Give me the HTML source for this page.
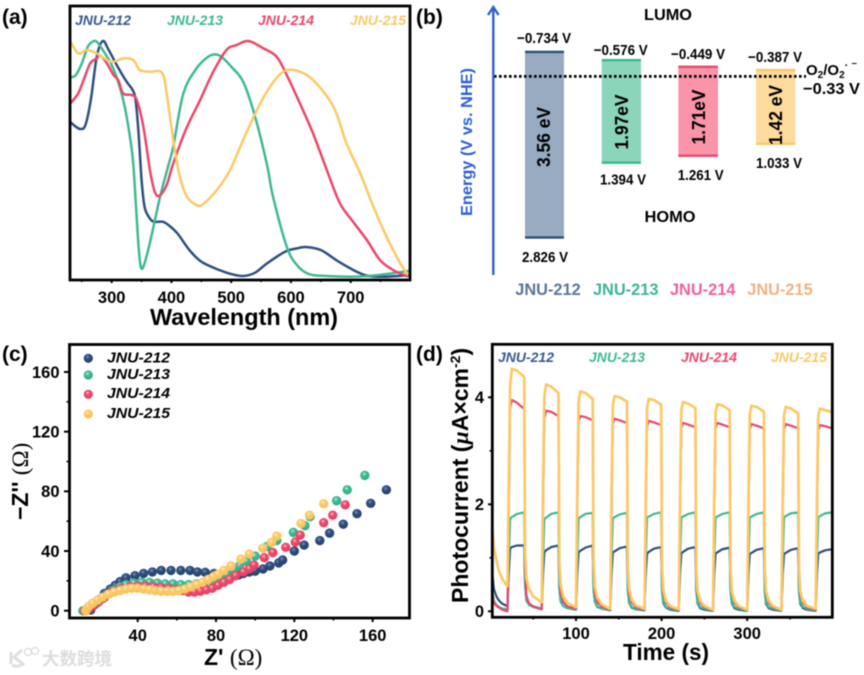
<!DOCTYPE html>
<html lang="en"><head><meta charset="utf-8"><title>JNU series figure</title>
<style>
html,body{margin:0;padding:0;background:#fff}
svg{display:block;filter:blur(0.45px)}
text{font-family:"Liberation Sans","Noto Sans CJK SC",sans-serif;font-weight:bold;fill:#000}
</style></head>
<body>
<svg id="fig" width="864" height="675" viewBox="0 0 864 675" xmlns="http://www.w3.org/2000/svg">
<defs>
<radialGradient id="ball212" cx="42%" cy="35%" r="65%"><stop offset="0" stop-color="#7f99bf"/><stop offset=".35" stop-color="#31507f"/><stop offset="1" stop-color="#24406b"/></radialGradient>
<radialGradient id="ball213" cx="42%" cy="35%" r="65%"><stop offset="0" stop-color="#c4eedd"/><stop offset=".35" stop-color="#3fbc95"/><stop offset="1" stop-color="#32aa85"/></radialGradient>
<radialGradient id="ball214" cx="42%" cy="35%" r="65%"><stop offset="0" stop-color="#fbc4d0"/><stop offset=".35" stop-color="#ee4a6c"/><stop offset="1" stop-color="#e43e62"/></radialGradient>
<radialGradient id="ball215" cx="42%" cy="35%" r="65%"><stop offset="0" stop-color="#fff0cf"/><stop offset=".35" stop-color="#fcca68"/><stop offset="1" stop-color="#f8c25a"/></radialGradient>
<clipPath id="clipD"><rect x="492" y="344" width="340" height="273"/></clipPath>
<clipPath id="clipA"><rect x="70" y="6" width="340" height="274"/></clipPath>
</defs>
<g id="root"></g>
<g opacity=".9">
<text x="42" y="665" font-size="17.5" textLength="70" lengthAdjust="spacingAndGlyphs" style="fill:#d9d9d9">大数跨境</text>
<path d="M11 652 V664 M22 650 L14 657 L23 664 Q17 668 12 665" fill="none" stroke="#dcdcdc" stroke-width="3"/>
<circle cx="28" cy="652" r="3.5" fill="none" stroke="#dcdcdc" stroke-width="1.5"/>
<circle cx="35" cy="651" r="3.5" fill="none" stroke="#dcdcdc" stroke-width="1.5"/>
</g>
</svg>
<script>
// ---- colours
var seriesNames = ['JNU-212','JNU-213','JNU-214','JNU-215'];
var seriesColors = ['#2f4f7f','#3fb992','#e9476a','#fbc966'];

// ---- panel (a) absorbance (arbitrary units)
var wl212 = [230,240,248,256,265,275,285,295,310,325,335,340,345,350,355,362,370,385,395,410,430,450,480,500,520,540,560,590,610,625,650,680,710,730,760,800];
var abs212 = [465,450,443,455,530,660,707,680,630,585,560,530,430,290,210,180,165,165,155,130,80,45,20,8,2,12,40,75,85,89,80,45,15,2,0,5];
var wl213 = [230,240,250,260,268,275,285,300,315,325,335,340,345,349,355,365,381,395,403,420,442,460,473,485,500,520,540,560,570,593,610,630,660,700,730,760,800];
var abs213 = [598,605,640,690,705,705,680,635,560,480,360,230,90,27,40,110,240,335,390,550,625,658,667,658,630,585,480,335,240,90,35,8,2,0,2,8,18];
var wl214 = [231,244,253,264,275,280,292,303,311,319,333,342,353,364,372,380,392,403,425,448,470,492,509,529,554,576,593,615,637,660,682,704,727,749,771,796];
var abs214 = [520,550,590,640,655,665,640,605,590,550,545,530,450,320,255,243,275,340,445,530,615,680,695,707,685,660,605,520,430,320,220,165,110,50,20,0];
var wl215 = [231,244,258,275,292,303,320,336,347,364,384,392,403,414,426,442,453,476,498,520,543,565,587,610,637,671,693,716,738,760,783,796];
var abs215 = [705,670,680,670,650,645,655,650,620,615,612,550,410,300,240,215,218,260,320,410,500,570,615,618,590,510,400,310,210,120,40,5];
var wlTicks = [300,400,500,600,700];
var wlMinor = [250,350,450,550,650,750];

// ---- panel (b) energy levels (V vs NHE)
var lumo = [-0.734,-0.576,-0.449,-0.387];
var homo = [2.826,1.394,1.261,1.033];
var gapLabels = ['3.56 eV','1.97eV','1.71eV','1.42 eV'];
var lumoLabels = ['\u22120.734 V','\u22120.576 V','\u22120.449 V','\u22120.387 V'];
var homoLabels = ['2.826 V','1.394 V','1.261 V','1.033 V'];
var dottedLevel = -0.262;

// ---- panel (c) Nyquist
var zr212 = [16,18,21,23,26,28.5,31,34,38.6,43,47.5,52,57,62,66.7,70.5,74.5,79,82,85.5,89,91.5,94,97,100,104,107.5,112,114,120,125,133,138,145,152,159,167];
var zi212 = [0.5,4,8,11.6,14.5,17,19.5,22,23.5,25,26,27,27,27,27,26,25.7,25,24,24,24,24,25,26,26.5,28,30,32,34,40,44,47,52,58,65,72,81];
var zr213 = [12,14,16,19,22,25,28,31,34,38,42,46,50,54,58,62,66,70,74,78,82,85.5,89,92,95.6,100,106,111,119.5,125.4,128,141.6,147,156];
var zi213 = [0,1,2.5,5,8,11.5,14,16,17.5,18.5,19,19,18.5,18,18,17.5,17.5,18,19,20,21.5,24,27,30,33,36.6,43,47,52.5,57,63,73.7,81,90.7];
var zr214 = [13,15,17,20,23,26,29,32,36,40,44,48,52,56,60,63,66,69,72,75,78,81,84,87,90,94,97,99.4,104.7,109,115.6,120.5,123,135,139.6,146];
var zi214 = [0,1,3,6,9,12,13.5,15,16,16.5,16.5,16,15.5,15,14,13.5,12.5,12.5,13,14,15,17,19,21,23.5,26,28,30.6,35.5,39,42.5,46,50.7,59,64,71];
var zr215 = [13.5,14,15,17,19.5,22,25,28,31,34,37,40,43,46,49,52,55,58,61,64,67,70,73,76,78.6,81,84,87.7,92.8,97,103.8,108.4,111,123.4,127.7,135];
var zi215 = [0,1.5,3,5,7,9,11,12.5,13.5,14.5,15,15,14.5,14,13.5,13,13,13,13.5,14.5,16,17.5,19,21,22.8,24.4,27,30,34.6,38,41.8,45.8,50,58.5,64,71.7];
var zxTicks = [40,80,120,160];
var zyTicks = [0,40,80,120,160];
var zxMinor = [60,100,140];
var zyMinor = [20,60,100,140];

// ---- panel (d) photocurrent
var lightOnTimes = [20,60,100,140,180,220,260,300,340,380];
var cycleOffsets = [0,1.5,3,5,11,19.5,20.5,22,25,30,39.5];
var preTimes = [2,4,7,10,14,19.5];
var pre212 = [0.75,0.42,0.28,0.2,0.14,0.1];
var pre213 = [0.4,0.2,0.12,0.08,0.05,0.04];
var pre214 = [0.3,0.16,0.1,0.07,0.03,0.0];
var pre215 = [1.55,1.2,0.95,0.75,0.6,0.47];
var cycles212 = [
[0.1,0.7,1.17,1.2,1.23,1.23,0.5,0.22,0.14,0.09,0.05],
[0.05,0.7,1.1,1.14,1.2,1.23,0.45,0.2,0.1,0.06,0.03],
[0.03,0.7,1.1,1.13,1.19,1.23,0.42,0.18,0.08,0.05,0.02],
[0.02,0.7,1.1,1.12,1.18,1.21,0.42,0.16,0.07,0.04,0.02],
[0.02,0.7,1.08,1.11,1.17,1.2,0.4,0.15,0.07,0.03,0.01],
[0.01,0.7,1.08,1.11,1.17,1.2,0.4,0.15,0.06,0.03,0.01],
[0.01,0.7,1.08,1.1,1.16,1.19,0.4,0.15,0.06,0.03,0.01],
[0.01,0.7,1.07,1.09,1.15,1.18,0.38,0.14,0.06,0.03,0.01],
[0.01,0.7,1.07,1.09,1.15,1.18,0.38,0.14,0.06,0.03,0.01],
[0.01,0.7,1.08,1.1,1.14,1.16]];
var cycles213 = [
[0.04,1.0,1.72,1.76,1.82,1.85,0.5,0.2,0.12,0.08,0.04],
[0.04,1.0,1.72,1.75,1.82,1.85,0.45,0.18,0.1,0.06,0.03],
[0.03,1.0,1.74,1.76,1.82,1.84,0.42,0.18,0.09,0.05,0.03],
[0.03,1.0,1.74,1.76,1.81,1.84,0.42,0.17,0.08,0.05,0.03],
[0.03,1.0,1.75,1.77,1.82,1.85,0.42,0.17,0.08,0.05,0.02],
[0.02,1.0,1.75,1.77,1.82,1.85,0.4,0.17,0.08,0.05,0.02],
[0.02,1.0,1.75,1.77,1.82,1.85,0.4,0.17,0.08,0.05,0.02],
[0.02,1.0,1.75,1.77,1.82,1.85,0.4,0.17,0.08,0.05,0.02],
[0.02,1.0,1.75,1.78,1.83,1.85,0.4,0.17,0.08,0.05,0.02],
[0.02,1.0,1.76,1.78,1.83,1.85]];
var cycles214 = [
[0.0,1.9,3.8,3.95,3.9,3.78,0.8,0.3,0.15,0.09,0.04],
[0.04,1.9,3.6,3.75,3.73,3.65,0.8,0.35,0.18,0.09,0.05],
[0.05,1.9,3.55,3.65,3.63,3.57,0.8,0.35,0.17,0.09,0.04],
[0.04,1.8,3.5,3.6,3.57,3.52,0.75,0.33,0.17,0.08,0.04],
[0.04,1.8,3.45,3.56,3.53,3.48,0.75,0.33,0.16,0.08,0.03],
[0.03,1.8,3.42,3.52,3.49,3.44,0.72,0.33,0.16,0.08,0.03],
[0.03,1.8,3.42,3.52,3.49,3.44,0.72,0.33,0.16,0.08,0.03],
[0.03,1.8,3.4,3.5,3.47,3.42,0.72,0.33,0.16,0.08,0.03],
[0.03,1.8,3.4,3.5,3.47,3.42,0.72,0.33,0.16,0.08,0.03],
[0.03,1.8,3.38,3.48,3.46,3.42]];
var cycles215 = [
[0.47,2.4,4.2,4.53,4.5,4.38,1.1,0.62,0.42,0.28,0.17],
[0.17,2.3,4.0,4.24,4.2,4.08,0.95,0.5,0.28,0.16,0.08],
[0.08,2.2,3.9,4.11,4.08,3.97,0.9,0.45,0.25,0.13,0.05],
[0.05,2.2,3.85,4.02,4.0,3.92,0.85,0.42,0.22,0.11,0.05],
[0.05,2.1,3.8,3.97,3.95,3.86,0.82,0.4,0.2,0.1,0.04],
[0.04,2.1,3.75,3.91,3.88,3.8,0.8,0.38,0.2,0.1,0.03],
[0.03,2.1,3.7,3.87,3.85,3.76,0.8,0.38,0.2,0.1,0.03],
[0.03,2.1,3.68,3.84,3.82,3.73,0.8,0.38,0.2,0.1,0.03],
[0.03,2.1,3.66,3.82,3.79,3.7,0.8,0.38,0.2,0.1,0.05],
[0.05,2.1,3.65,3.79,3.76,3.72]];
var timeTicks = [100,200,300];
var timeMinor = [50,150,250,350];
var pcTicks = [0,2,4];
var pcMinor = [1,3];

// ---- axis functions
function xA(w){return 111.7+(w-300)*0.5975;}
function yA(v){return 276.7-v/3;}
function yE(v){return 51.7+(v+0.734)*52.25;}
function xC(v){return 137.7+(v-40)*1.958;}
function yC(v){return 610.7-v*1.492;}
function xD(t){return 576+(t-100)*0.856;}
function yD(v){return 611.3-v*53.5;}

var NS='http://www.w3.org/2000/svg';
var root=document.getElementById('root');
function mk(tag,attrs,parent){
  var e=document.createElementNS(NS,tag);
  for(var k in attrs){e.setAttribute(k,attrs[k]);}
  (parent||root).appendChild(e);
  return e;
}
function label(str,x,y,size,opts,name){
  opts=opts||{};
  var a={x:x,y:y,'font-size':size};
  if(opts.anchor)a['text-anchor']=opts.anchor;
  if(opts.width){a.textLength=opts.width;a.lengthAdjust='spacingAndGlyphs';}
  if(opts.rotate){a.transform='rotate(-90 '+x+' '+y+')';}
  if(opts.italic)a['font-style']='italic';
  var t=mk('text',a,opts.parent);
  if(opts.color)t.style.fill=opts.color;
  t.textContent=str;
  
  
  return t;
}
function tick(x1,y1,x2,y2,w,name,parent){
  var l=mk('line',{x1:x1,y1:y1,x2:x2,y2:y2,stroke:'#000','stroke-width':w},parent);
  
  
}
function frame(x,y,w,h,name){
  var r=mk('rect',{x:x,y:y,width:w,height:h,fill:'none',stroke:'#000','stroke-width':2.8});
  
  
}
function smooth(pts){
  var d='M'+pts[0][0].toFixed(2)+' '+pts[0][1].toFixed(2);
  for(var i=0;i<pts.length-1;i++){
    var p0=pts[Math.max(i-1,0)],p1=pts[i],p2=pts[i+1],p3=pts[Math.min(i+2,pts.length-1)];
    var c1x=p1[0]+(p2[0]-p0[0])/6,c1y=p1[1]+(p2[1]-p0[1])/6,c2x=p2[0]-(p3[0]-p1[0])/6,c2y=p2[1]-(p3[1]-p1[1])/6;
    d+='C'+c1x.toFixed(2)+' '+c1y.toFixed(2)+' '+c2x.toFixed(2)+' '+c2y.toFixed(2)+' '+p2[0].toFixed(2)+' '+p2[1].toFixed(2);
  }
  return d;
}

// ---- panel labels
label('(a)',2,24,21,{},'panel-a-label');
label('(b)',416,24,21,{},'panel-b-label');
label('(c)',2,361,21,{},'panel-c-label');
label('(d)',416,361,21,{},'panel-d-label');

// ---- panel (a)
var aG=mk('g',{'clip-path':'url(#clipA)'});


var wls=[wl212,wl213,wl214,wl215],absS=[abs212,abs213,abs214,abs215];
[0,1,2,3].forEach(function(s){
  var pts=wls[s].map(function(w,i){return [xA(w),yA(absS[s][i])];});
  var p=mk('path',{d:smooth(pts),fill:'none',stroke:seriesColors[s],'stroke-width':2.5,'stroke-linejoin':'round'},aG);
  
  
});
frame(70,6,340,274,'panel-a-frame');
wlTicks.forEach(function(t){
  tick(xA(t),280,xA(t),283,2,'x-tick-'+t);
  label(String(t),xA(t),303,16.5,{anchor:'middle'},'x-tick-label-'+t);
});
wlMinor.forEach(function(t){tick(xA(t),280,xA(t),282,1.5,'x-minor-tick-'+t);});
label('Wavelength (nm)',150,325,23,{width:188},'x-axis-title-wavelength');
var legAX=[75,167,258,350];
seriesNames.forEach(function(n,i){
  label(n,legAX[i],25,13.5,{italic:true,width:56,color:seriesColors[i]=='#2f4f7f'?'#3a5a8c':seriesColors[i]},'legend-a-'+n.toLowerCase());
});

// ---- panel (b)
var barX=[525,601.7,678.3,756];
var barW=[39,39.3,39.7,39.3];
var barFill=['#98abc0','#8bd5bb','#fa94a9','#fddb9c'];
var barEdge=['#2f4f75','#3bb78f','#ea4a6c','#f9c766'];
var gapX=[550,628,705,782];
var gapY=[137,122,117,115];
var gapW=[60,55,55,60];
var lumoX=[544,620.7,698,775];
var lumoY=[43,55,59,62];
var homoX=[545,623,700.7,779];
var homoY=[262,184.7,180,168];
var sampleX=[548,625.7,702.7,780];
var sampleColor=['#5d7697','#3fb596','#ef62a0','#f0b285'];
seriesNames.forEach(function(n,i){
  var id=n.toLowerCase();
  var y1=yE(lumo[i]),y2=yE(homo[i]);
  var r=mk('rect',{x:barX[i],y:y1,width:barW[i],height:y2-y1,fill:barFill[i]});
  
  
  var e1=mk('rect',{x:barX[i],y:y1-1,width:barW[i],height:2.4,fill:barEdge[i]});
  
  
  var e2=mk('rect',{x:barX[i],y:y2-1.4,width:barW[i],height:2.4,fill:barEdge[i]});
  
  
  label(gapLabels[i],gapX[i],gapY[i]+gapW[i]/2,18,{rotate:true,width:gapW[i]},'band-gap-label-'+id);
  label(lumoLabels[i],lumoX[i],lumoY[i],15,{anchor:'middle',width:54},'lumo-value-'+id);
  label(homoLabels[i],homoX[i],homoY[i],15,{anchor:'middle',width:46},'homo-value-'+id);
  label(n,sampleX[i],295,17,{anchor:'middle',width:65.5,color:sampleColor[i]},'sample-label-'+id);
});
var dl=mk('line',{x1:494,x2:806,y1:yE(dottedLevel),y2:yE(dottedLevel),stroke:'#000','stroke-width':2.8,'stroke-dasharray':'2.6 2.4'});


var ax=mk('path',{d:'M493.3 275 V7 M488 15 L493.3 7 L498.6 15',fill:'none',stroke:'#2f5fd0','stroke-width':2.4});


label('Energy (V vs. NHE)',472,216,16,{rotate:true,width:148,color:'#2f5fd0'},'y-axis-title-energy');
label('LUMO',668,20,16,{anchor:'middle',width:48},'lumo-title');
label('HOMO',670,222,16,{anchor:'middle',width:51},'homo-title');
var o2=label('O',806,75,15,{},'o2-couple-label');
o2.innerHTML='O<tspan font-size="10" dy="3">2</tspan><tspan dy="-3">/O</tspan><tspan font-size="10" dy="3">2</tspan><tspan font-size="11" dy="-9">· ⁻</tspan>';
label('\u22120.33 V',803,94,16,{width:57},'o2-potential-label');

// ---- panel (c)
var zrs=[zr212,zr213,zr214,zr215],zis=[zi212,zi213,zi214,zi215],ballIds=['ball212','ball213','ball214','ball215'];
var cG=mk('g',{});


[0,1,2,3].forEach(function(s){
  zrs[s].forEach(function(v,i){
    var c=mk('circle',{cx:xC(v),cy:yC(zis[s][i]),r:4.7,fill:'url(#'+ballIds[s]+')'},cG);
    
    
  });
});
frame(69.5,344.5,340,273.5,'panel-c-frame');
zxTicks.forEach(function(t){
  tick(xC(t),618,xC(t),622,2,'z-real-tick-'+t);
  label(String(t),xC(t),641,16.5,{anchor:'middle'},'z-real-tick-label-'+t);
});
zxMinor.forEach(function(t){tick(xC(t),618,xC(t),620.5,1.5,'z-real-minor-tick-'+t);});
zyTicks.forEach(function(t){
  tick(64,yC(t),69,yC(t),2,'z-imag-tick-'+t);
  label(String(t),59.5,yC(t)+5.8,16.5,{anchor:'end'},'z-imag-tick-label-'+t);
});
zyMinor.forEach(function(t){tick(66.5,yC(t),69,yC(t),1.5,'z-imag-minor-tick-'+t);});
var zx=label('Z\'',204,665,23,{},'x-axis-title-z-real');
zx.innerHTML='Z\' <tspan font-family="Liberation Serif" font-weight="normal">(Ω)</tspan>';
var zy=label('',28,520,23,{rotate:true},'y-axis-title-z-imag');
zy.innerHTML='−Z\'\' <tspan font-family="Liberation Serif" font-weight="normal">(Ω)</tspan>';
var legCY=[358.3,375,394.3,414];
var legCB=[362.7,379,398,418];
seriesNames.forEach(function(n,i){
  var c=mk('circle',{cx:88.3,cy:legCY[i],r:4.6,fill:'url(#'+ballIds[i]+')'});
  
  
  label(n,107,legCB[i],14.5,{italic:true,width:63},'legend-c-'+n.toLowerCase());
});

// ---- panel (d)
var dG=mk('g',{'clip-path':'url(#clipD)'});


var preS=[pre212,pre213,pre214,pre215],cycS=[cycles212,cycles213,cycles214,cycles215];
var dWidths=[2.2,2.2,2.2,2.7];
[0,1,2,3].forEach(function(s){
  var pts=preTimes.map(function(t,i){return xD(t).toFixed(2)+','+yD(preS[s][i]).toFixed(2);});
  cycS[s].forEach(function(row,k){
    row.forEach(function(v,j){
      pts.push(xD(lightOnTimes[k]+cycleOffsets[j]).toFixed(2)+','+yD(v).toFixed(2));
    });
  });
  var p=mk('polyline',{points:pts.join(' '),fill:'none',stroke:seriesColors[s],'stroke-width':dWidths[s],'stroke-linejoin':'round'},dG);
  
  
});
frame(492.3,344.3,340,273,'panel-d-frame');
timeTicks.forEach(function(t){
  tick(xD(t),617,xD(t),621,2,'time-tick-'+t);
  label(String(t),xD(t),639,16.5,{anchor:'middle'},'time-tick-label-'+t);
});
timeMinor.forEach(function(t){tick(xD(t),617,xD(t),619.5,1.5,'time-minor-tick-'+t);});
pcTicks.forEach(function(t){
  tick(488,yD(t),492,yD(t),2,'photocurrent-tick-'+t);
  label(String(t),484,yD(t)+5.8,16.5,{anchor:'end'},'photocurrent-tick-label-'+t);
});
pcMinor.forEach(function(t){tick(489.5,yD(t),492,yD(t),1.5,'photocurrent-minor-tick-'+t);});
label('Time (s)',623,660,23,{width:86},'x-axis-title-time');
var py=label('',468,603,23,{rotate:true},'y-axis-title-photocurrent');
py.innerHTML='Photocurrent (<tspan font-family="Liberation Serif" font-style="italic">µ</tspan>A×cm<tspan font-size="14" dy="-8">-2</tspan><tspan dy="8">)</tspan>';
var legDX=[498,589,681,771];
seriesNames.forEach(function(n,i){
  label(n,legDX[i],362,13.5,{italic:true,width:56,color:seriesColors[i]=='#2f4f7f'?'#3a5a8c':seriesColors[i]},'legend-d-'+n.toLowerCase());
});
</script>
</body></html>
